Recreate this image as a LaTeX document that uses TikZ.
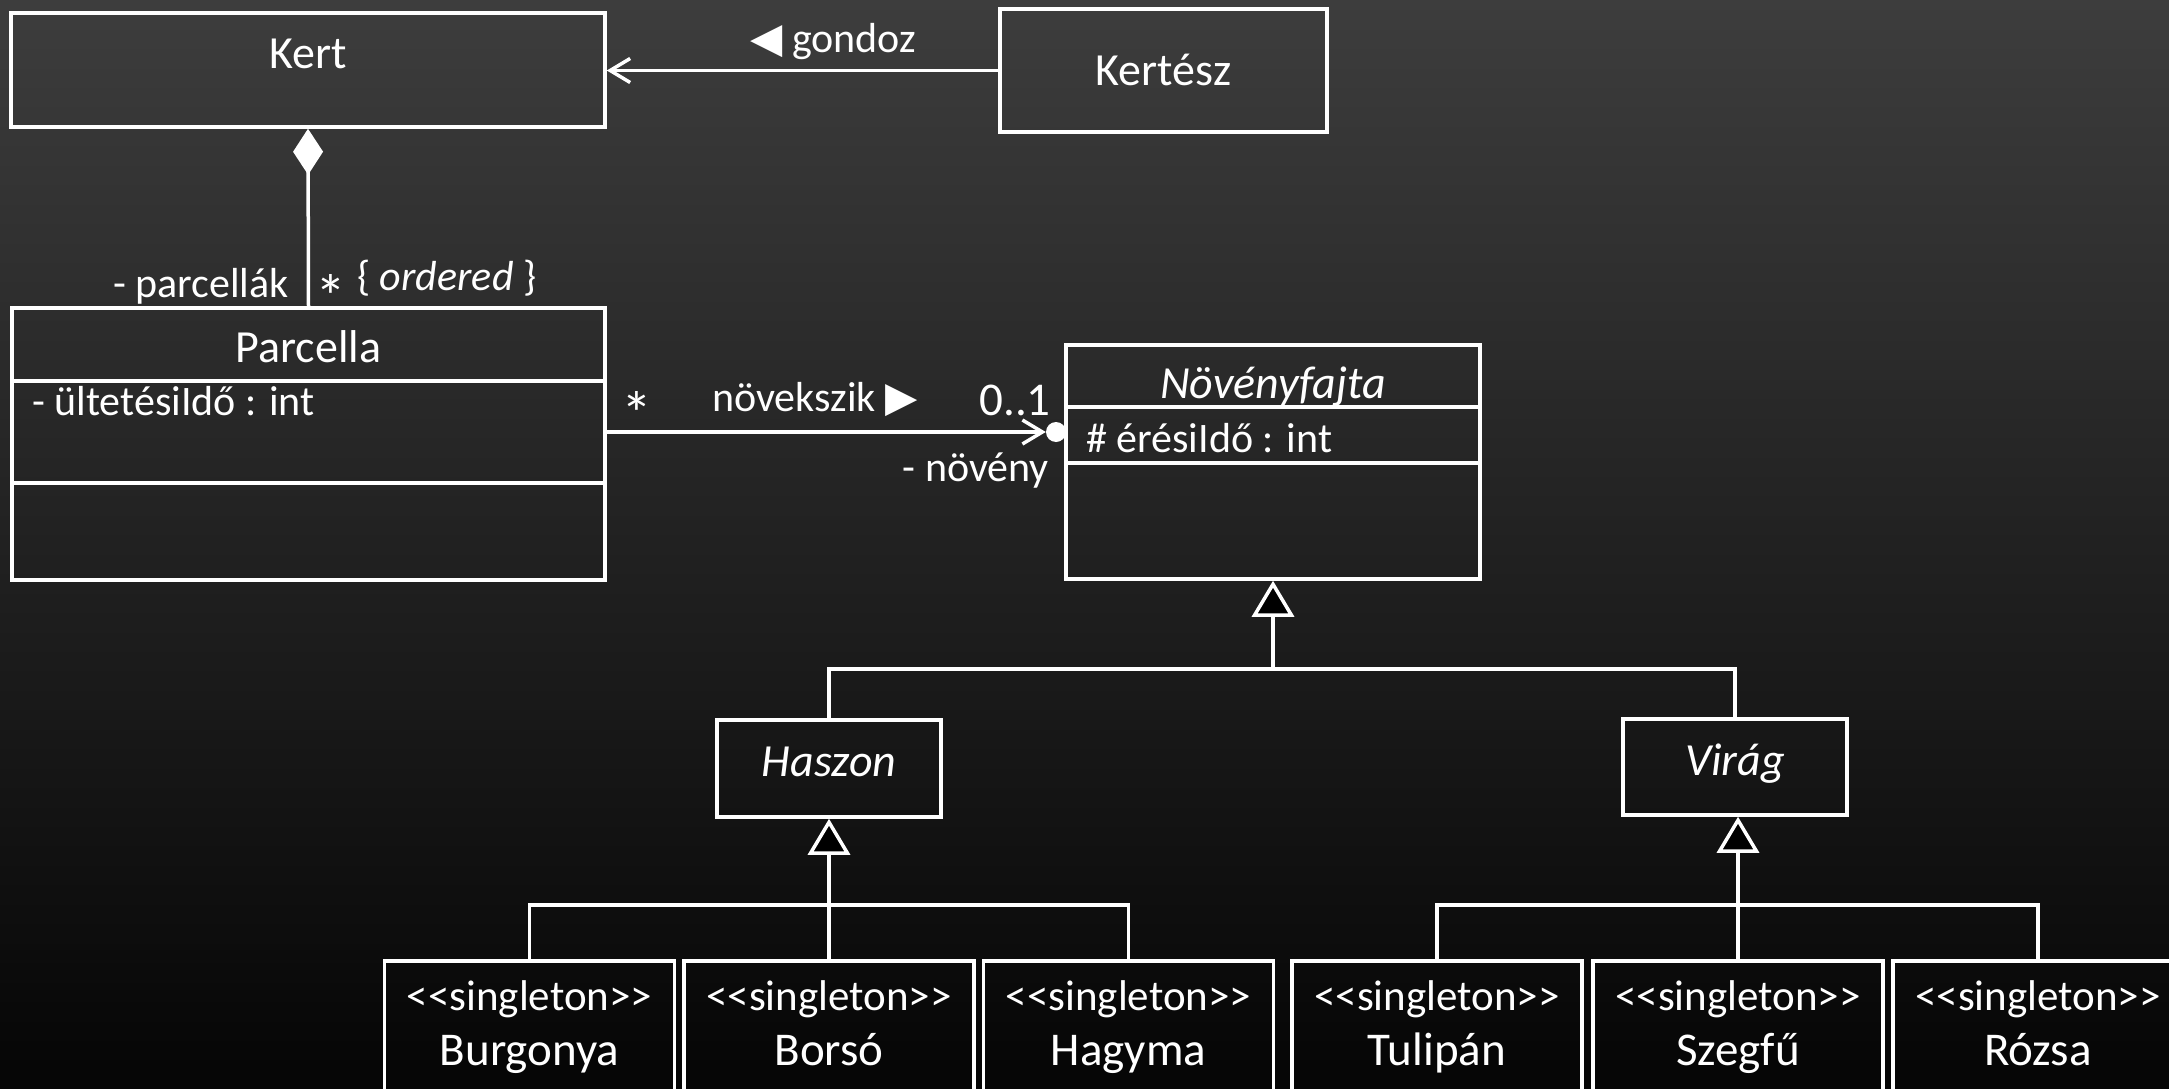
\documentclass[tikz,border=0pt]{standalone}
\usepackage{fontspec}
\setmainfont{Carlito}
\newfontfamily\symfont{DejaVu Sans}
\usetikzlibrary{arrows.meta,calc}
\definecolor{bgtop}{RGB}{61,61,61}
\definecolor{bgbot}{RGB}{5,5,5}
\newcommand\stereo[1]{<\kern0pt<#1>\kern0pt>}
\newcommand\lowstar{\raisebox{-23pt}[18pt][0pt]{*}}
\begin{document}
\begin{tikzpicture}[x=1pt,y=-1pt,
  box/.style={draw=white, line width=3.5pt, rectangle, inner sep=0pt},
  lbl/.style={text=white, inner sep=0pt, font=\fontsize{42}{50}\selectfont},
  stl/.style={text=white, inner sep=0pt, font=\fontsize{43}{51}\selectfont},
  cname/.style={text=white, inner sep=0pt, font=\fontsize{46}{55}\selectfont},
  sname/.style={text=white, inner sep=0pt, font=\fontsize{47}{56}\selectfont},
  starl/.style={text=white, inner sep=0pt, font=\fontsize{62}{70}\selectfont, anchor=base},
  ln/.style={draw=white, line width=3.5pt},
  gen/.style={ln, -{Triangle[open, length=36pt, width=42pt, fill=black]}},
  barb/.style={ln, -{Straight Barb[length=20pt, width=24pt]}},
  single/.style={box, minimum width=290pt, minimum height=170pt, anchor=north},
]
\useasboundingbox (0,0) rectangle (2169,1089);
\clip (0,0) rectangle (2169,1089);
\shade[top color=bgtop, bottom color=bgbot] (0,0) rectangle (2169,1089);

% Kert
\node[box, minimum width=594pt, minimum height=114pt] (kert) at (308,70) {};
\node[cname, anchor=base] (kerttxt) at (308,69) {Kert};

% Kertesz
\node[box, minimum width=327pt, minimum height=123pt] (kertesz) at (1163.5,70.5) {};
\node[cname, anchor=base] (kertesztxt) at (1163.5,86) {Kertész};

\draw[barb] (kertesz.west) -- (kert.east |- kertesz.west);
\node[lbl, anchor=base west] (gondoz) at (750,53) {{\symfont ◀} gondoz};

% Parcella
\node[box, minimum width=593pt, minimum height=272pt] (parcella) at (308.5,444) {};
\node[cname, anchor=base] (parcellatxt) at (308.5,362) {Parcella};
\node[lbl, anchor=base west] (parcattr) at (32,415) {- ültetésiIdő : int};
\draw[ln] (parcella.west |- 0,381) -- (parcella.east |- 0,381);
\draw[ln] (parcella.west |- 0,483) -- (parcella.east |- 0,483);

% composition
\draw[ln, {Diamond[length=46pt, width=30pt, fill=white]}-] (kert.south) -- (parcella.north);
\node[lbl, anchor=base east] (parcellak) at (289,297) {- parcellák};
\node[starl] (star1) at (331,295) {\lowstar};
\node[lbl, anchor=base west] (ordered) at (357,290) {\{ \textit{ordered} \}};

% Novenyfajta
\node[box, minimum width=414pt, minimum height=234pt] (nfj) at (1273,462) {};
\node[cname, anchor=base] (nfjtxt) at (1273,398) {\textit{Növényfajta}};
\node[lbl, anchor=base west] (nfjattr) at (1086,452) {\# érésiIdő : int};
\draw[ln] (nfj.west |- 0,407) -- (nfj.east |- 0,407);
\draw[ln] (nfj.west |- 0,463) -- (nfj.east |- 0,463);

% association
\node[circle, fill=white, minimum size=20pt, inner sep=0pt] (own) at (1056,432) {};
\draw[barb] (parcella.east |- own) -- (own.west);
\node[starl] (star2) at (637,412) {\lowstar};
\node[lbl, anchor=base west] (novekszik) at (712,411) {növekszik {\symfont ▶}};
\node[text=white, inner sep=0pt, font=\fontsize{47}{56}\selectfont, anchor=base east] (mult) at (1051,415) {0..1};
\node[lbl, anchor=base east] (noveny) at (1049,481) {- növény};

% Haszon, Virag
\node[box, minimum width=224pt, minimum height=97pt] (haszon) at (829,768.5) {};
\node[cname, anchor=base] (haszontxt) at (829,776) {\textit{Haszon}};
\node[box, minimum width=224pt, minimum height=96pt] (virag) at (1735,767) {};
\node[cname, anchor=base] (viragtxt) at (1735,775) {\textit{Virág}};

\coordinate (j0) at (1273,669);
\draw[ln] (haszon.north) |- (j0);
\draw[ln] (virag.north) |- (j0);
\draw[gen] (j0) -- (nfj.south);

% singletons
\foreach \nm/\cx/\txt in {burg/529.5/Burgonya, bors/829/Borsó, hagy/1128.5/Hagyma, tuli/1437/Tulipán, szeg/1738/Szegfű, rozsa/2038/Rózsa}{
  \node[single] (\nm) at (\cx,959) {};
  \node[stl, anchor=base] (\nm st) at (\cx,1010) {\stereo{singleton}};
  \node[sname, anchor=base] (\nm tx) at (\cx,1065) {\txt};
}

\coordinate (j1) at (829,905);
\draw[ln] (burg.north) |- (j1);
\draw[ln] (hagy.north) |- (j1);
\draw[ln] (bors.north) -- (j1);
\draw[gen] (j1) -- (haszon.south);

\coordinate (j2) at (1738,905);
\draw[ln] (tuli.north) |- (j2);
\draw[ln] (rozsa.north) |- (j2);
\draw[ln] (szeg.north) -- (j2);
\draw[gen] (j2) -- (j2 |- virag.south);
\end{tikzpicture}
\end{document}
